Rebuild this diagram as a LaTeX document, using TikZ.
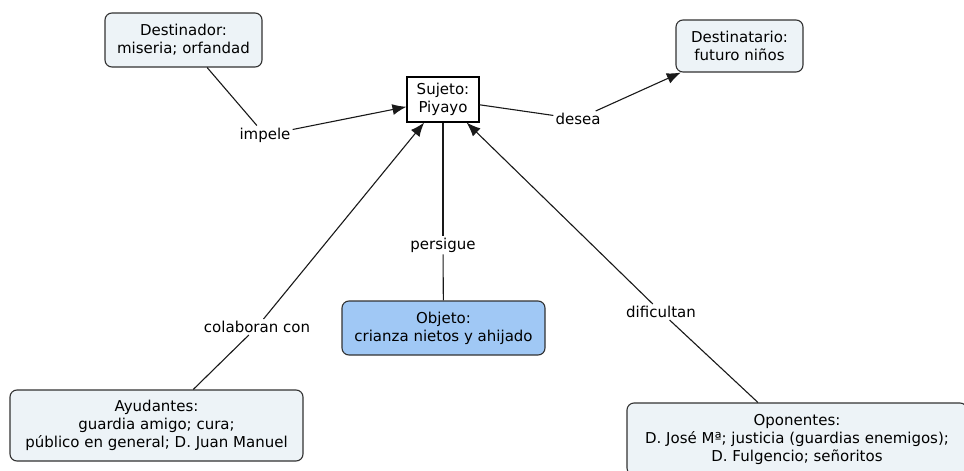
\documentclass[tikz,border=0pt]{standalone}
\usepackage{fontspec}
\setmainfont{DejaVu Sans}
\usetikzlibrary{arrows.meta}
\definecolor{boxfill}{RGB}{237,243,247}
\definecolor{objfill}{RGB}{160,200,245}
\definecolor{boxline}{RGB}{50,50,50}
\tikzset{
  concept/.style={draw=boxline, line width=1.1pt, fill=boxfill, rounded corners=7pt,
    align=center, inner sep=0pt, font=\fontsize{15}{18}\selectfont},
  lbl/.style={inner sep=2pt, font=\fontsize{15}{18}\selectfont},
  conn/.style={line width=1.1pt, draw=black!90},
  arr/.style={conn, -{Latex[length=14pt,width=11pt]}}
}
\begin{document}
\begin{tikzpicture}[x=1pt,y=-1pt]
\useasboundingbox (0,0) rectangle (964,471);
\clip (0,0) rectangle (964,471);
\node[concept, minimum width=157pt, minimum height=54pt] (dest) at (183.5,40) {Destinador:\\miseria; orfandad};
\node[concept, draw=black, fill=white, rounded corners=0pt, minimum width=72pt, minimum height=45pt] (suj) at (443,99.5) {Sujeto:\\Piyayo};
\node[concept, minimum width=127pt, minimum height=52pt] (dtario) at (739.5,46) {Destinatario:\\futuro niños};
\node[concept, fill=objfill, minimum width=203pt, minimum height=54pt] (obj) at (443.5,328) {Objeto:\\crianza nietos y ahijado};
\node[concept, minimum width=293pt, minimum height=71pt] (ayu) at (156.5,425.5) {Ayudantes:\\guardia amigo; cura;\\público en general; D. Juan Manuel};
\node[concept, minimum width=340pt, minimum height=72pt] (opo) at (797,439) {Oponentes:\\D. José Mª; justicia (guardias enemigos);\\D. Fulgencio; señoritos};

\node[lbl] (impele) at (265,135) {impele};
\node[lbl] (desea) at (578,119) {desea};
\node[lbl] (persigue) at (443,245) {persigue};
\node[lbl] (colab) at (257,327) {colaboran con};
\node[lbl] (dific) at (661,312) {dificultan};

\draw[conn] (dest) -- (impele);
\draw[arr] (impele) -- (suj);
\draw[conn] (suj) -- (desea);
\draw[arr] (desea) -- (dtario);
\draw[conn] (obj) -- (persigue);
\draw[conn] (persigue) -- (suj);
\draw[conn] (ayu) -- (colab);
\draw[arr] (colab) -- (suj);
\draw[conn] (opo) -- (dific);
\draw[arr] (dific) -- (suj);
\end{tikzpicture}
\end{document}
